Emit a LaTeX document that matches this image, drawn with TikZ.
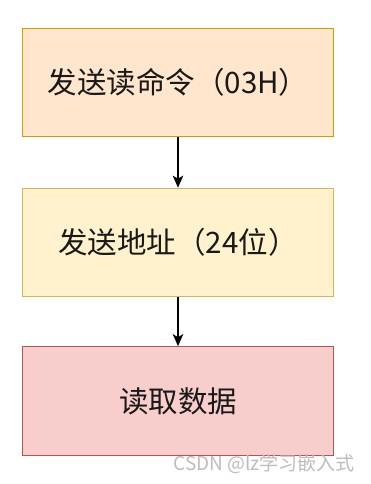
\documentclass[tikz,border=0pt]{standalone}
\usepackage{fontspec}
\setmainfont{Noto Sans CJK SC}
\newfontfamily\cjk{Noto Sans CJK SC}
\usetikzlibrary{arrows.meta}
\definecolor{fillA}{HTML}{FFE6CC}\definecolor{drawA}{HTML}{D79B00}
\definecolor{fillB}{HTML}{FFF2CC}\definecolor{drawB}{HTML}{D6B656}
\definecolor{fillC}{HTML}{F8CECC}\definecolor{drawC}{HTML}{B85450}
\definecolor{wm}{HTML}{BDBDBD}
\tikzset{
  stepbox/.style={rectangle, minimum width=310.5pt, minimum height=108.5pt, line width=1.2pt, inner sep=0pt,
    font=\cjk\fontsize{29.5}{32}\selectfont, text=black!90},
  flow/.style={line width=1.3pt, -{Stealth[length=12pt,width=10.5pt,inset=3pt]}}
}
\begin{document}
\begin{tikzpicture}[x=1pt,y=-1pt]
\useasboundingbox[fill=white] (0,0) rectangle (370,484);
\node[stepbox, fill=fillA, draw=drawA] (a) at (178,82.5) {发送读命令（03H）};
\node[stepbox, fill=fillB, draw=drawB] (b) at (178,242.5) {发送地址（24位）};
\node[stepbox, fill=fillC, draw=drawC] (c) at (178,401) {读取数据};
\draw[flow] (a) -- (b);
\draw[flow] (b) -- (c);
\node[font=\cjk\fontsize{19}{21}\selectfont, text=wm, anchor=east, inner sep=0pt] (w) at (355,464) {CSDN @lz学习嵌入式};
\end{tikzpicture}
\end{document}
